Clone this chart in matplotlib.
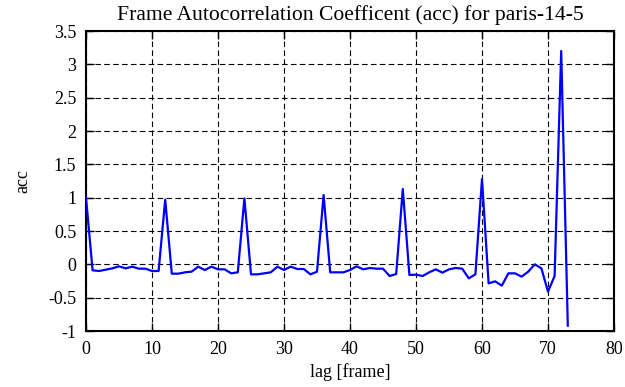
import matplotlib
matplotlib.use("Agg")
import matplotlib.pyplot as plt
import numpy as np

lag = list(range(0, 74))
acc = [1.00, -0.09, -0.10, -0.08, -0.06, -0.03, -0.06, -0.035, -0.065, -0.065,
       -0.10, -0.10, 0.97, -0.14, -0.14, -0.12, -0.11, -0.035, -0.085, -0.035,
       -0.075, -0.075, -0.135, -0.12, 0.99, -0.15, -0.15, -0.135, -0.12, -0.035,
       -0.085, -0.035, -0.07, -0.07, -0.15, -0.11, 1.04, -0.12, -0.12, -0.12,
       -0.085, -0.03, -0.075, -0.055, -0.065, -0.065, -0.175, -0.145, 1.13, -0.16,
       -0.155, -0.175, -0.12, -0.075, -0.125, -0.075, -0.055, -0.065, -0.21, -0.15,
       1.28, -0.285, -0.255, -0.32, -0.135, -0.135, -0.185, -0.11, 0.0, -0.06,
       -0.41, -0.175, 3.2, -0.92]

xticks = np.arange(0, 81, 10)
yticks = np.arange(-1, 3.51, 0.5)
ytick_labels = ["-1", "-0.5", "0", "0.5", "1", "1.5", "2", "2.5", "3", "3.5"]

plt.rcParams["font.family"] = ["Liberation Serif", "DejaVu Serif"]
plt.rcParams["font.size"] = 13

fig = plt.figure(figsize=(6.25, 3.87), dpi=100)
ax = fig.add_axes([86/625, 1-331/387, (614-86)/625, 300/387])

ax.plot(lag, acc, color=(0, 0, 1), lw=1.6, zorder=3)

ax.set_xlim(0, 80)
ax.set_ylim(-1, 3.5)
ax.set_xticks(xticks)
ax.set_yticks(yticks)
ax.set_yticklabels(ytick_labels)
ax.tick_params(direction="in", length=6, width=1, top=True, right=True, pad=7)
ax.grid(True, color="black", linestyle=(0, (5, 3)), lw=0.8)
for s in ax.spines.values():
    s.set_linewidth(1.5)

ax.set_title("Frame Autocorrelation Coefficent (acc) for paris-14-5", pad=8)
ax.set_xlabel("lag [frame]", labelpad=4)
ax.set_ylabel("acc", labelpad=12)

fig.savefig("out.png", dpi=100)
